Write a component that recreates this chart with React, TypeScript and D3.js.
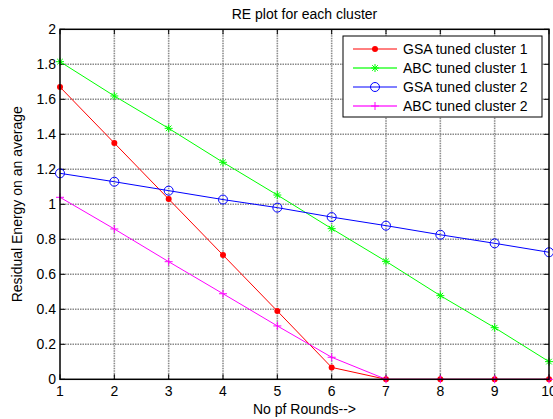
import { useEffect, useRef } from "react";
import * as d3 from "d3";

const rounds = [1, 2, 3, 4, 5, 6, 7, 8, 9, 10];
const gsaCluster1 = [1.67, 1.35, 1.03, 0.71, 0.39, 0.068, 0, 0, 0, 0];
const abcCluster1 = [1.815, 1.619, 1.434, 1.24, 1.053, 0.861, 0.674, 0.478, 0.295, 0.101];
const gsaCluster2 = [1.177, 1.129, 1.078, 1.027, 0.981, 0.927, 0.878, 0.826, 0.777, 0.726];
const abcCluster2 = [1.04, 0.859, 0.672, 0.489, 0.305, 0.126, 0, 0, 0, 0];
const yTicks = [0, 0.2, 0.4, 0.6, 0.8, 1, 1.2, 1.4, 1.6, 1.8, 2];
const seriesNames = ["GSA tuned cluster 1", "ABC tuned cluster 1", "GSA tuned cluster 2", "ABC tuned cluster 2"];
const seriesColors = ["#ff0000", "#00ff00", "#0000ff", "#ff00ff"];
const seriesMarkers = ["dot", "star", "circle", "plus"];

const W = 553;
const H = 419;
const margin = { left: 60, right: 4, top: 29.3, bottom: 39.7 };
const font = "'Liberation Sans', Arial, sans-serif";

function drawMarker(g, kind, x, y, color) {
  if (kind === "dot") {
    g.append("circle").attr("cx", x).attr("cy", y).attr("r", 3).attr("fill", color);
  } else if (kind === "circle") {
    g.append("circle").attr("cx", x).attr("cy", y).attr("r", 4.5)
      .attr("fill", "none").attr("stroke", color).attr("stroke-width", 1);
  } else if (kind === "plus") {
    const s = 4;
    g.append("path").attr("d", `M${x - s},${y}H${x + s}M${x},${y - s}V${y + s}`)
      .attr("stroke", color).attr("stroke-width", 1);
  } else {
    const s = 4;
    const d = s * 0.7;
    g.append("path")
      .attr("d", `M${x - s},${y}H${x + s}M${x},${y - s}V${y + s}M${x - d},${y - d}L${x + d},${y + d}M${x - d},${y + d}L${x + d},${y - d}`)
      .attr("stroke", color).attr("stroke-width", 1);
  }
}

const App = () => {
  const ref = useRef(null);

  useEffect(() => {
    if (!ref.current) return;
    const svg = d3.select(ref.current);
    svg.selectAll("*").remove();

    const x = d3.scaleLinear().domain([1, 10]).range([margin.left, W - margin.right]);
    const y = d3.scaleLinear().domain([0, 2]).range([H - margin.bottom, margin.top]);
    const [x0, x1] = x.range();
    const [y0, y1] = y.range();

    svg.append("rect").attr("width", W).attr("height", H).attr("fill", "#fff");

    // grid (dotted, blurry gray like the export)
    const grid = svg.append("g").attr("stroke", "#8a8a8a").attr("stroke-width", 1.6)
      .attr("stroke-dasharray", "1.5,1");
    rounds.slice(1, -1).forEach((r) => {
      grid.append("line").attr("x1", x(r)).attr("x2", x(r)).attr("y1", y0).attr("y2", y1);
    });
    yTicks.slice(1, -1).forEach((t) => {
      grid.append("line").attr("y1", y(t)).attr("y2", y(t)).attr("x1", x0).attr("x2", x1);
    });

    // ticks inward
    const ticks = svg.append("g").attr("stroke", "#000").attr("stroke-width", 1);
    rounds.forEach((r) => {
      ticks.append("line").attr("x1", x(r)).attr("x2", x(r)).attr("y1", y0).attr("y2", y0 - 5);
      ticks.append("line").attr("x1", x(r)).attr("x2", x(r)).attr("y1", y1).attr("y2", y1 + 5);
    });
    yTicks.forEach((t) => {
      ticks.append("line").attr("x1", x0).attr("x2", x0 + 5).attr("y1", y(t)).attr("y2", y(t));
      ticks.append("line").attr("x1", x1).attr("x2", x1 - 5).attr("y1", y(t)).attr("y2", y(t));
    });

    // series
    const allSeries = [gsaCluster1, abcCluster1, gsaCluster2, abcCluster2];
    const line = d3.line().x((d) => x(d[0])).y((d) => y(d[1]));
    allSeries.forEach((vals, i) => {
      const pts = rounds.map((r, j) => [r, vals[j]]);
      const g = svg.append("g");
      g.append("path").attr("d", line(pts)).attr("fill", "none")
        .attr("stroke", seriesColors[i]).attr("stroke-width", 1);
      pts.forEach((p) => drawMarker(g, seriesMarkers[i], x(p[0]), y(p[1]), seriesColors[i]));
    });

    // axes box
    svg.append("rect").attr("x", x0).attr("y", y1).attr("width", x1 - x0).attr("height", y0 - y1)
      .attr("fill", "none").attr("stroke", "#000").attr("stroke-width", 1.5);

    // tick labels
    const lab = svg.append("g").attr("font-family", font).attr("font-size", 14).attr("fill", "#000");
    rounds.forEach((r) => {
      lab.append("text").attr("x", x(r)).attr("y", y0 + 17).attr("text-anchor", "middle").text(r);
    });
    yTicks.forEach((t) => {
      lab.append("text").attr("x", x0 - 4).attr("y", y(t) + 5).attr("text-anchor", "end").text(t);
    });

    // title & labels
    svg.append("text").attr("x", (x0 + x1) / 2).attr("y", 19).attr("text-anchor", "middle")
      .attr("font-family", font).attr("font-size", 14).text("RE plot for each cluster");
    svg.append("text").attr("x", (x0 + x1) / 2).attr("y", 414).attr("text-anchor", "middle")
      .attr("font-family", font).attr("font-size", 14).text("No pf Rounds-->");
    svg.append("text").attr("transform", `translate(22,${(y0 + y1) / 2}) rotate(-90)`)
      .attr("text-anchor", "middle").attr("font-family", font).attr("font-size", 14)
      .text("Residual Energy on an average");

    // legend
    const lg = svg.append("g");
    lg.append("rect").attr("x", 343).attr("y", 36).attr("width", 199).attr("height", 81)
      .attr("fill", "#fff").attr("stroke", "#000").attr("stroke-width", 1);
    seriesNames.forEach((name, i) => {
      const ly = 49 + i * 19;
      const wide = i % 2 === 1;
      lg.append("line").attr("x1", 353).attr("x2", 397).attr("y1", ly).attr("y2", ly)
        .attr("stroke", seriesColors[i]).attr("stroke-width", wide ? 2 : 1)
        .attr("stroke-opacity", wide ? 0.6 : 1);
      drawMarker(lg, seriesMarkers[i], 375, ly, seriesColors[i]);
      lg.append("text").attr("x", 403).attr("y", ly + 5).attr("font-family", font)
        .attr("font-size", 14).text(name);
    });
  }, []);

  return (
    <svg ref={ref} width={W} height={H} style={{ position: "absolute", left: 0, top: 0 }}></svg>
  );
};

export default App;
